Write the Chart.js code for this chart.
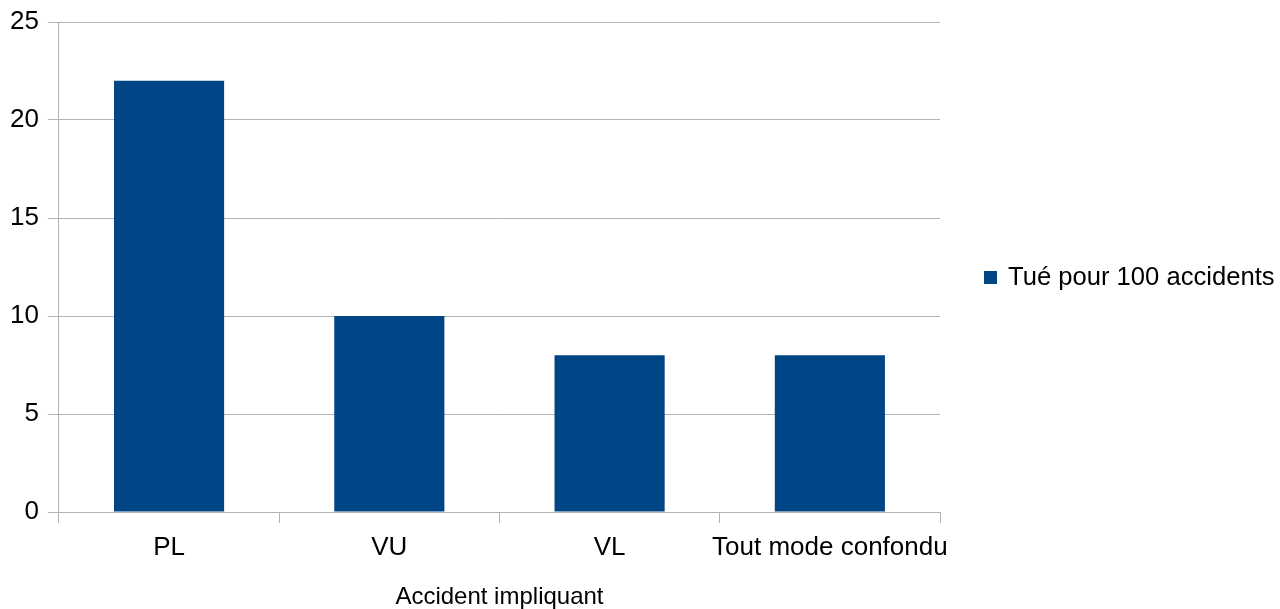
<!DOCTYPE html>
<html>
<head>
<meta charset="utf-8">
<script src="https://cdn.jsdelivr.net/npm/chart.js@4"></script>
<style>
  html, body { margin: 0; padding: 0; background: #fff; }
  #wrap { width: 1280px; height: 609px; position: relative; }
</style>
</head>
<body>
<div id="wrap"><canvas id="can"></canvas></div>
<script>
var categories = ["PL", "VU", "VL", "Tout mode confondu"];
var tues = [22, 10, 8, 8];
var seriesName = "Tué pour 100 accidents";
var yTicks = [0, 5, 10, 15, 20, 25];

var gris = "#b3b3b3";
var bleu = "#004586";
var police = "'Liberation Sans', Arial, sans-serif";

// legend drawn on the right of the plot
var sideLegend = {
  id: "sideLegend",
  afterDraw: function (chart) {
    var ctx = chart.ctx;
    var ds = chart.data.datasets[0];
    var cy = 278;
    ctx.save();
    ctx.fillStyle = ds.backgroundColor;
    ctx.fillRect(984, cy - 7, 13, 13);
    ctx.fillStyle = "#000";
    ctx.font = "25.6px " + police;
    ctx.textBaseline = "middle";
    ctx.fillText(ds.label, 1008, cy);
    ctx.restore();
  }
};

function makebar(can) {
  var ctx = document.getElementById(can).getContext("2d");
  var chart = new Chart(ctx, {
    type: "bar",
    data: {
      labels: categories,
      datasets: [
        {
          label: seriesName,
          data: tues,
          backgroundColor: bleu,
          borderWidth: 0,
          categoryPercentage: 0.5,
          barPercentage: 1,
        },
      ],
    },
    options: {
      responsive: true,
      maintainAspectRatio: false,
      animation: false,
      layout: { padding: { left: 1, right: 340, top: 16, bottom: -3 } },
      plugins: {
        legend: { display: false },
        tooltip: { enabled: false },
      },
      scales: {
        x: {
          offset: true,
          grid: {
            offset: true,
            color: function (c) {
              return c.index === 0 || c.index === categories.length ? gris : "transparent";
            },
            tickColor: gris,
            tickLength: 11,
          },
          border: { color: gris },
          ticks: {
            color: "#000",
            font: { family: police, size: 26 },
            padding: 9,
            maxRotation: 0,
            autoSkip: false,
          },
          title: {
            display: true,
            text: "Accident impliquant",
            color: "#000",
            font: { family: police, size: 24 },
            padding: { top: 11, bottom: 0 },
          },
        },
        y: {
          min: 0,
          max: 25,
          afterBuildTicks: function (scale) {
            scale.ticks = yTicks.map(function (v) { return { value: v }; });
          },
          grid: { color: gris, tickColor: gris, tickLength: 11 },
          border: { color: gris },
          ticks: {
            color: "#000",
            font: { family: police, size: 26, lineHeight: 1 },
            padding: 9,
          },
        },
      },
    },
    plugins: [sideLegend],
  });
  return chart;
}

makebar("can");
</script>
</body>
</html>
